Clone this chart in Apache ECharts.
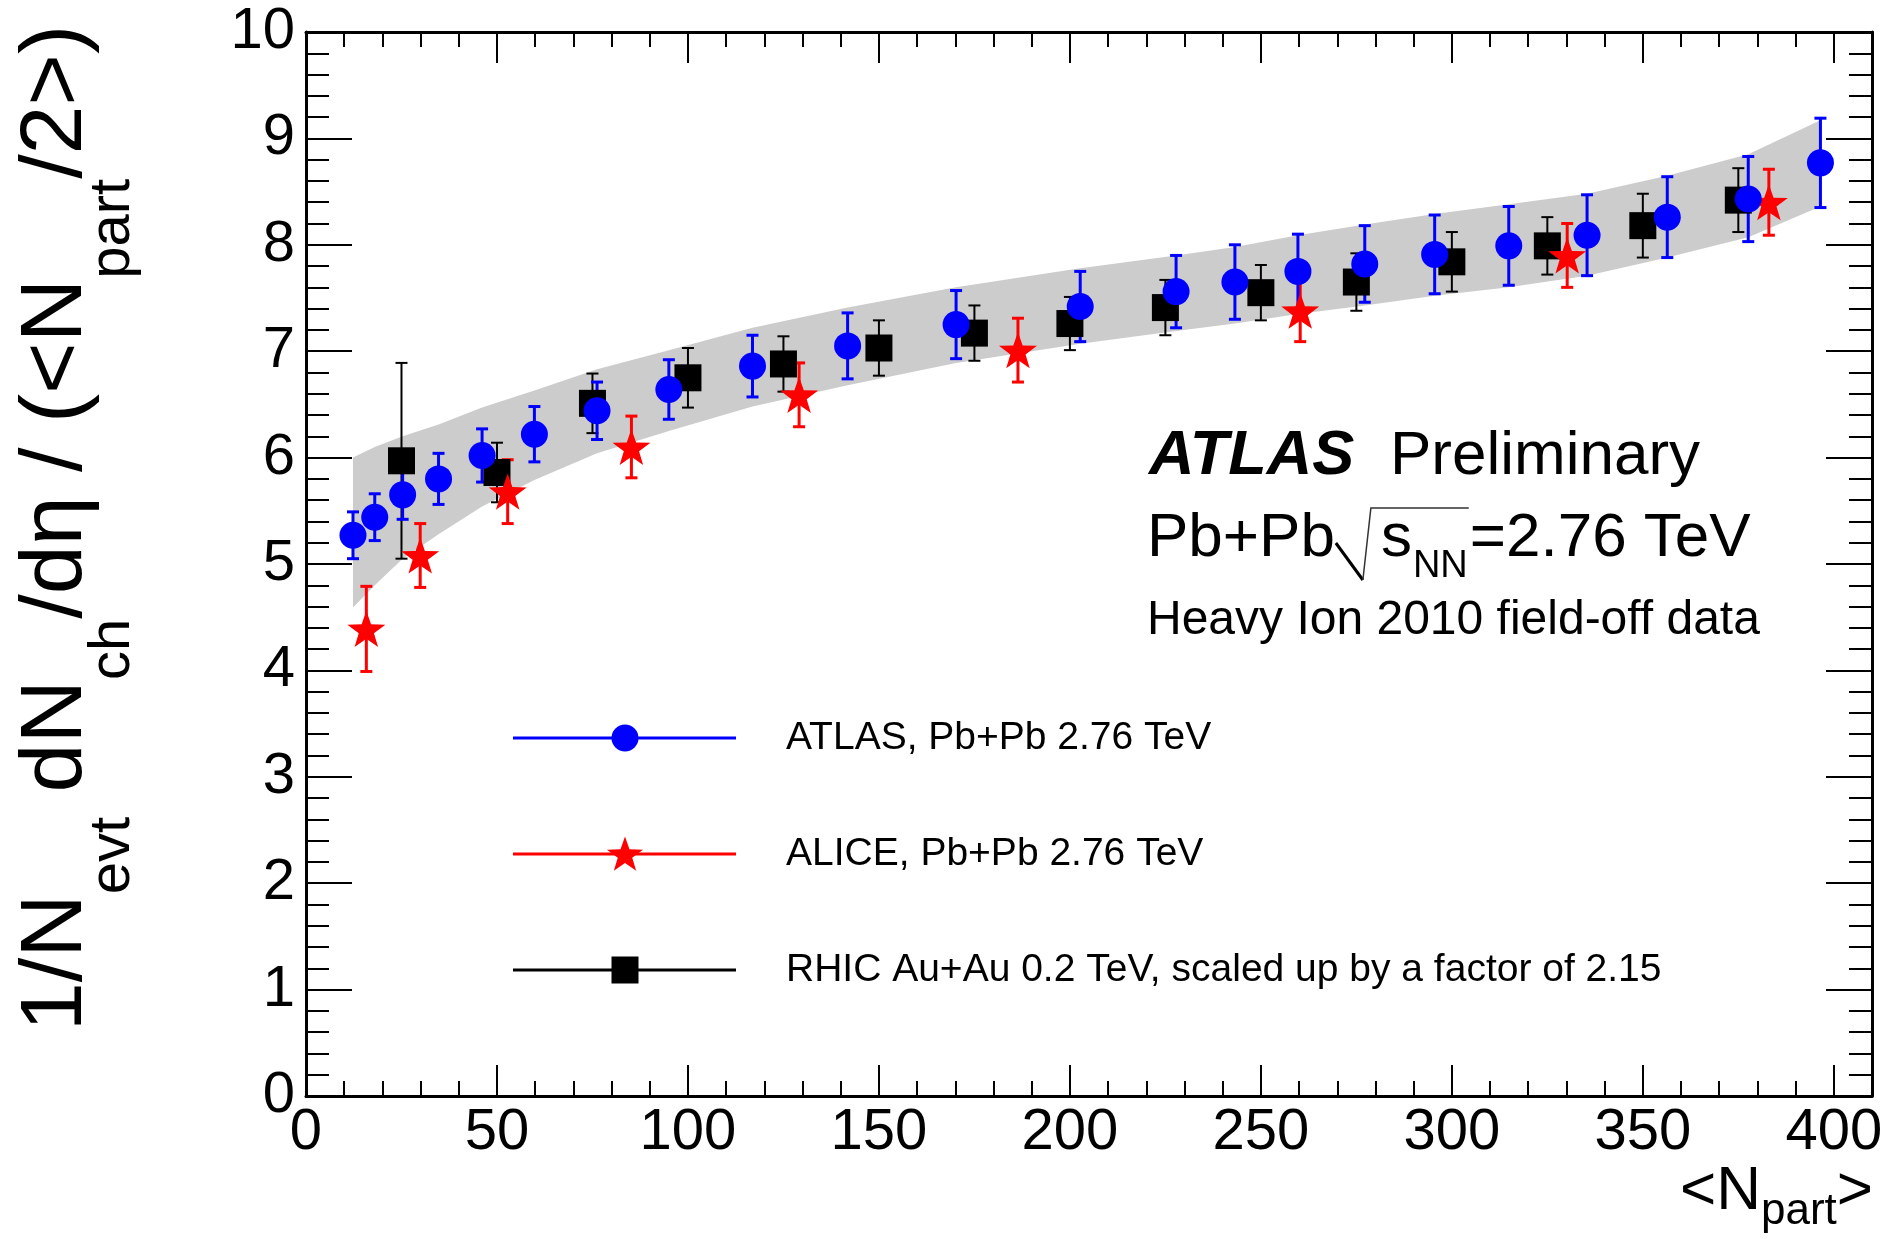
<!DOCTYPE html>
<html>
<head>
<meta charset="utf-8">
<script src="https://cdn.jsdelivr.net/npm/echarts@6/dist/echarts.min.js"></script>
<style>
html,body{margin:0;padding:0;background:#ffffff;}
#chart{width:1889px;height:1239px;}
</style>
</head>
<body>
<div id="chart"></div>
<script>
// ---------------- data ----------------
const atlasName = 'ATLAS, Pb+Pb 2.76 TeV';
const aliceName = 'ALICE, Pb+Pb 2.76 TeV';
const rhicName = 'RHIC Au+Au 0.2 TeV, scaled up by a factor of 2.15';

const atlasX   = [12.3, 18.0, 25.3, 34.7, 46.1, 59.8, 76.2, 95.0, 116.9, 141.8, 170.2, 202.7, 227.8, 243.2, 259.7, 277.2, 295.5, 314.9, 335.4, 356.4, 377.6, 396.5];
const atlasY   = [5.27, 5.44, 5.65, 5.80, 6.02, 6.22, 6.44, 6.64, 6.86, 7.05, 7.25, 7.42, 7.56, 7.65, 7.75, 7.82, 7.91, 7.99, 8.09, 8.26, 8.43, 8.77];
const atlasErr = [0.22, 0.22, 0.23, 0.24, 0.25, 0.26, 0.27, 0.28, 0.29, 0.31, 0.32, 0.33, 0.34, 0.35, 0.35, 0.36, 0.37, 0.37, 0.38, 0.38, 0.40, 0.42];
const bandLow  = [4.59, 4.80, 5.05, 5.28, 5.54, 5.79, 6.04, 6.25, 6.48, 6.68, 6.89, 7.07, 7.19, 7.26, 7.35, 7.43, 7.52, 7.60, 7.71, 7.88, 8.07, 8.36];
const bandHigh = [6.00, 6.10, 6.20, 6.31, 6.47, 6.63, 6.83, 7.01, 7.22, 7.41, 7.60, 7.78, 7.90, 7.98, 8.09, 8.19, 8.29, 8.38, 8.48, 8.65, 8.85, 9.17];

const aliceX   = [15.8, 29.9, 52.8, 85.2, 129.1, 186.4, 260.3, 330.2, 383.0];
const aliceY   = [4.39, 5.08, 5.68, 6.10, 6.59, 7.01, 7.38, 7.90, 8.40];
const aliceErr = [0.40, 0.30, 0.30, 0.29, 0.30, 0.30, 0.29, 0.30, 0.31];

const rhicX   = [25, 50, 75, 100, 125, 150, 175, 200, 225, 250, 275, 300, 325, 350, 375];
const rhicY   = [5.97, 5.86, 6.51, 6.75, 6.88, 7.03, 7.17, 7.26, 7.41, 7.55, 7.65, 7.84, 7.99, 8.18, 8.42];
const rhicErr = [0.92, 0.28, 0.28, 0.28, 0.26, 0.26, 0.26, 0.25, 0.26, 0.26, 0.27, 0.28, 0.27, 0.30, 0.30];

const xMin = 0, xMax = 410, xStep = 50;
const yMin = 0, yMax = 10, yStep = 1;

// title pieces: [text, isSubscript]
const yTitleParts = [['1/N', 0], ['evt', 1], [' dN', 0], ['ch', 1], ['/dη / (<N', 0], ['part', 1], ['/2>)', 0]];
const xTitleParts = [['<N', 0], ['part', 1], ['>', 0]];

// ---------------- helpers ----------------
const FONT = 'Liberation Sans';
const BLUE = '#0000ff', RED = '#ff0000', BLACK = '#000000', BAND = '#cccccc';

function starPath() {
  const R = 50, r = 20;
  let d = '';
  for (let i = 0; i < 10; i++) {
    const a = -Math.PI / 2 + i * Math.PI / 5;
    const rad = (i % 2) ? r : R;
    d += (i ? 'L' : 'M') + (50 + rad * Math.cos(a)).toFixed(2) + ' ' + (50 + rad * Math.sin(a)).toFixed(2) + ' ';
  }
  return 'path://' + d + 'Z';
}
function starPoints(cx, cy, R) {
  const r = R * 0.4, pts = [];
  for (let i = 0; i < 10; i++) {
    const a = -Math.PI / 2 + i * Math.PI / 5;
    const rad = (i % 2) ? r : R;
    pts.push([cx + rad * Math.cos(a), cy + rad * Math.sin(a)]);
  }
  return pts;
}

function errSeries(name, xs, ys, es, color, width) {
  return {
    type: 'custom', name: name, silent: true, animation: false,
    data: xs.map((x, i) => [x, ys[i] - es[i], ys[i] + es[i]]),
    encode: { x: 0, y: [1, 2] },
    renderItem: function (params, api) {
      const x = api.value(0), lo = api.value(1), hi = api.value(2);
      const a = api.coord([x, hi]), b = api.coord([x, lo]);
      const c = 6;
      const st = { stroke: color, lineWidth: width, fill: null };
      return {
        type: 'group', children: [
          { type: 'line', shape: { x1: a[0], y1: a[1], x2: b[0], y2: b[1] }, style: st },
          { type: 'line', shape: { x1: a[0] - c, y1: a[1], x2: a[0] + c, y2: a[1] }, style: st },
          { type: 'line', shape: { x1: b[0] - c, y1: b[1], x2: b[0] + c, y2: b[1] }, style: st }
        ]
      };
    }
  };
}
function ptSeries(name, xs, ys, symbol, size, color) {
  return {
    type: 'scatter', name: name, silent: true, animation: false,
    data: xs.map((x, i) => [x, ys[i]]),
    symbol: symbol, symbolSize: size, symbolKeepAspect: true,
    itemStyle: { color: color, opacity: 1 },
    emphasis: { disabled: true }
  };
}

const ctx2d = document.createElement('canvas').getContext('2d');
function textW(str, size, weight, style) {
  ctx2d.font = (style || 'normal') + ' ' + (weight || 'normal') + ' ' + size + 'px "' + FONT + '"';
  return ctx2d.measureText(str).width;
}
function txt(str, x, baseline, size, extra) {
  return {
    type: 'text', x: x, y: baseline - 0.347 * size, silent: true,
    style: Object.assign({ text: str, fontSize: size, fontFamily: FONT, fill: '#000',
      align: 'left', verticalAlign: 'middle' }, extra || {})
  };
}

// ---------------- axes ----------------
function makeX(pos, showLabel) {
  return {
    type: 'value', position: pos, min: xMin, max: xMax, interval: xStep,
    splitLine: { show: false },
    axisLine: { show: true, onZero: false, lineStyle: { color: '#000', width: 3 } },
    axisTick: { show: true, inside: true, length: 31, lineStyle: { color: '#000', width: 2 } },
    minorTick: { show: true, splitNumber: 5, length: 15, lineStyle: { color: '#000', width: 2 } },
    axisLabel: {
      show: showLabel, fontSize: 58, fontFamily: FONT, color: '#000', margin: 8,
      formatter: v => (v % xStep === 0 ? String(v) : '')
    }
  };
}
function makeY(pos, showLabel) {
  return {
    type: 'value', position: pos, min: yMin, max: yMax, interval: yStep,
    splitLine: { show: false },
    axisLine: { show: true, onZero: false, lineStyle: { color: '#000', width: 3 } },
    axisTick: { show: true, inside: true, length: 46, lineStyle: { color: '#000', width: 2 } },
    minorTick: { show: true, splitNumber: 5, length: 23, lineStyle: { color: '#000', width: 2 } },
    axisLabel: { show: showLabel, fontSize: 58, fontFamily: FONT, color: '#000', margin: 11 }
  };
}

// ---------------- annotations ----------------
const graphics = [];

// y-axis title: rotated pieces, reading bottom-to-top
(function () {
  const fsM = 88, fsS = 58;
  const baseM = 87, baseS = 133;      // screen-x of baselines (glyph bottoms face right)
  const centerY = 528;
  const widths = yTitleParts.map(p => textW(p[0], p[1] ? fsS : fsM));
  const W = widths.reduce((a, b) => a + b, 0);
  let pos = centerY + W / 2;
  yTitleParts.forEach((p, i) => {
    const fs = p[1] ? fsS : fsM;
    const midX = (p[1] ? baseS : baseM) - 0.347 * fs;
    graphics.push({
      type: 'text', x: midX, y: pos, rotation: Math.PI / 2, silent: true,
      style: { text: p[0], fontSize: fs, fontFamily: FONT, fill: '#000', align: 'left', verticalAlign: 'middle' }
    });
    pos -= widths[i];
  });
})();

// x-axis title: right aligned at the frame's right edge
(function () {
  const fsM = 62, fsS = 44, baseM = 1213, baseS = 1227, right = 1873;
  const widths = xTitleParts.map(p => textW(p[0], p[1] ? fsS : fsM));
  const W = widths.reduce((a, b) => a + b, 0);
  let x = right - W;
  xTitleParts.forEach((p, i) => {
    graphics.push(txt(p[0], x, p[1] ? baseS : baseM, p[1] ? fsS : fsM));
    x += widths[i];
  });
})();

// "ATLAS Preliminary"
graphics.push(txt('ATLAS', 1149, 478, 63, { fontWeight: 'bold', fontStyle: 'italic' }));
graphics.push(txt('Preliminary', 1390, 478, 62));

// "Pb+Pb sqrt(s_NN)=2.76 TeV"
(function () {
  const B = 560, fs = 62, x0 = 1147;
  const w1 = textW('Pb+Pb', fs);
  const e = x0 + w1;
  graphics.push(txt('Pb+Pb', x0, B, fs));
  const sx = e + 46;
  const ws = textW('s', fs);
  graphics.push(txt('s', sx, B, fs));
  const nx = sx + ws + 1;
  const wn = textW('NN', 38);
  graphics.push(txt('NN', nx, B + 20, 38));
  const ox = nx + wn + 1;
  graphics.push({ type: 'polyline', silent: true,
    shape: { points: [[e + 1, B - 17], [e + 28, B + 20]] },
    style: { stroke: '#000', lineWidth: 3, fill: null } });
  graphics.push({ type: 'polyline', silent: true,
    shape: { points: [[e + 28, B + 20], [e + 36, B - 52], [ox, B - 52]] },
    style: { stroke: '#333', lineWidth: 1.5, fill: null } });
  graphics.push(txt('=2.76 TeV', ox + 1, B, fs));
})();

graphics.push(txt('Heavy Ion 2010 field-off data', 1147, 637, 48));

// legend
const legendRows = [
  { name: atlasName, color: BLUE, sym: 'circle', y: 738 },
  { name: aliceName, color: RED, sym: 'star', y: 854 },
  { name: rhicName, color: BLACK, sym: 'rect', y: 970 }
];
legendRows.forEach(r => {
  graphics.push({ type: 'line', silent: true, shape: { x1: 513, y1: r.y, x2: 736, y2: r.y },
    style: { stroke: r.color, lineWidth: 3 } });
  if (r.sym === 'circle') {
    graphics.push({ type: 'circle', silent: true, shape: { cx: 625, cy: r.y, r: 13.5 }, style: { fill: r.color } });
  } else if (r.sym === 'rect') {
    graphics.push({ type: 'rect', silent: true, shape: { x: 625 - 13.5, y: r.y - 13.5, width: 27, height: 27 }, style: { fill: r.color } });
  } else {
    graphics.push({ type: 'polygon', silent: true, shape: { points: starPoints(625, r.y + 1.5, 19) }, style: { fill: r.color } });
  }
  graphics.push(txt(r.name, 786, r.y + 14, 39));
});

// ---------------- chart ----------------
const chart = echarts.init(document.getElementById('chart'), null, { renderer: 'canvas' });
chart.setOption({
  animation: false,
  backgroundColor: '#ffffff',
  textStyle: { fontFamily: FONT },
  grid: { left: 306, right: 17, top: 32, bottom: 143, containLabel: false, outerBoundsMode: 'none' },
  xAxis: [makeX('bottom', true), makeX('top', false)],
  yAxis: [makeY('left', true), makeY('right', false)],
  graphic: { elements: graphics },
  series: [
    {
      type: 'custom', name: 'ATLAS systematic band', silent: true, animation: false,
      data: [[atlasX[0], bandLow[0]]],
      renderItem: function (params, api) {
        const pts = [];
        for (let i = 0; i < atlasX.length; i++) pts.push(api.coord([atlasX[i], bandHigh[i]]));
        for (let i = atlasX.length - 1; i >= 0; i--) pts.push(api.coord([atlasX[i], bandLow[i]]));
        return { type: 'polygon', shape: { points: pts }, style: { fill: BAND, stroke: null } };
      }
    },
    errSeries(rhicName + ' err', rhicX, rhicY, rhicErr, BLACK, 2),
    ptSeries(rhicName, rhicX, rhicY, 'rect', 27, BLACK),
    errSeries(aliceName + ' err', aliceX, aliceY, aliceErr, RED, 3),
    ptSeries(aliceName, aliceX, aliceY, starPath(), 38, RED),
    errSeries(atlasName + ' err', atlasX, atlasY, atlasErr, BLUE, 3),
    ptSeries(atlasName, atlasX, atlasY, 'circle', 27, BLUE)
  ]
});
</script>
</body>
</html>
